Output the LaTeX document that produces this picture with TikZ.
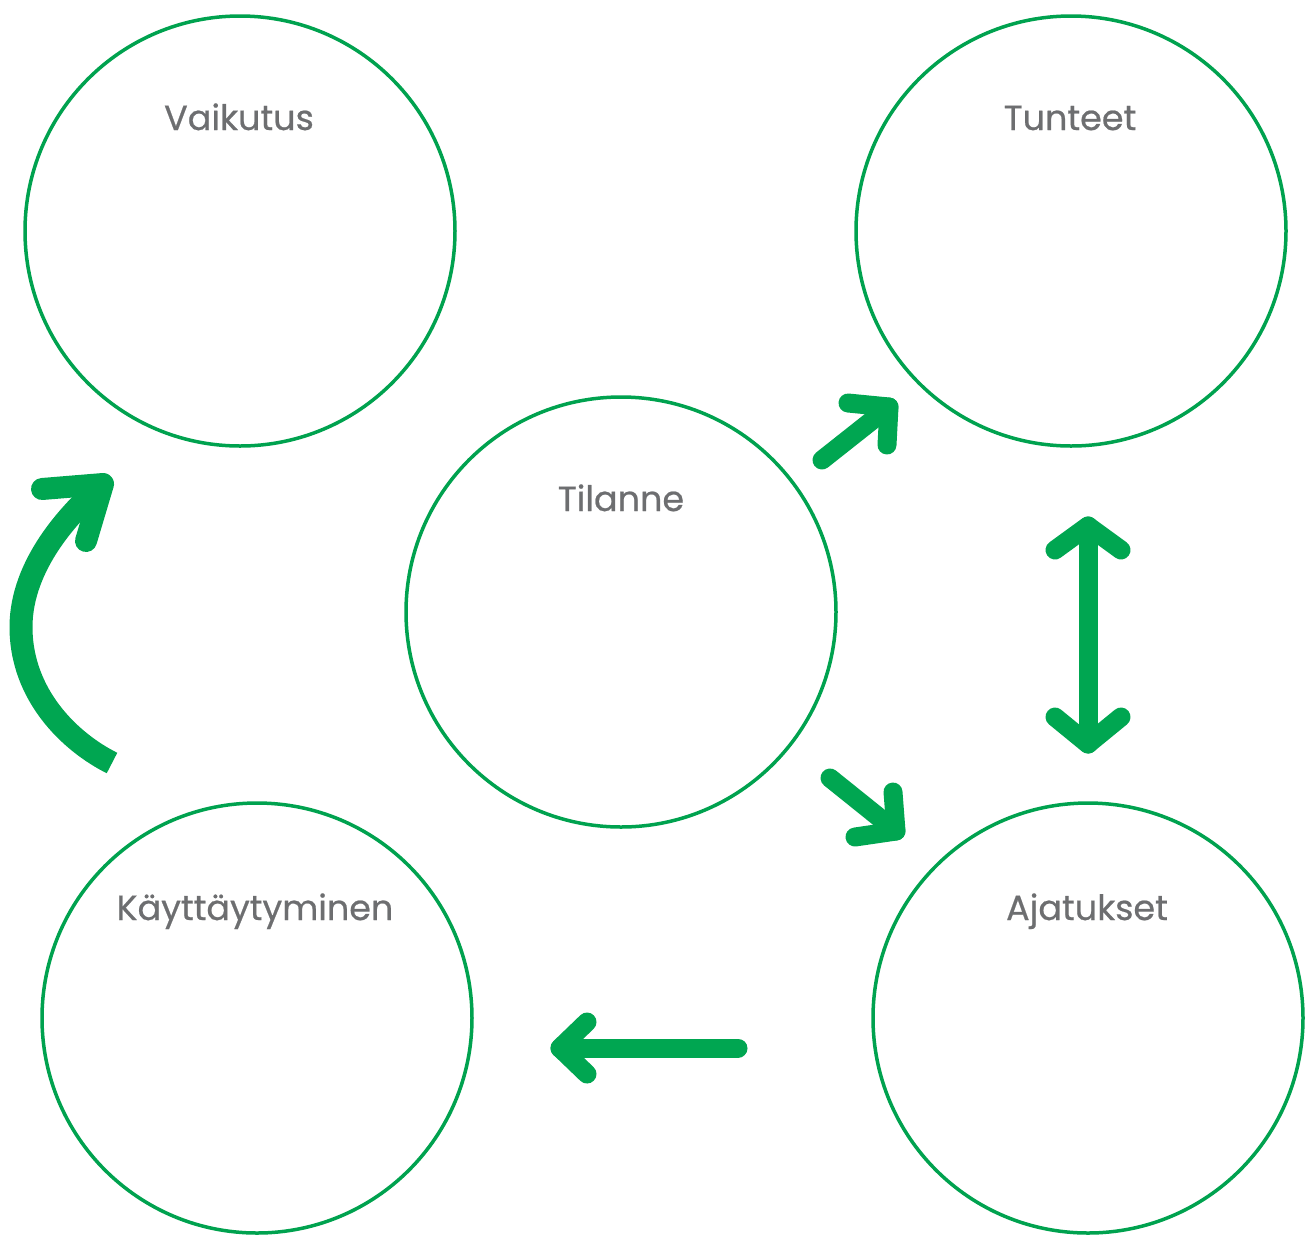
\documentclass[tikz,border=0pt]{standalone}
\usepackage{fontspec}
\setmainfont{Poppins}[BoldFont=Poppins, BoldFeatures={FakeBold=0.6}]
\definecolor{ringgreen}{HTML}{00A24F}
\definecolor{arrowgreen}{HTML}{00A651}
\definecolor{labelgray}{HTML}{6D6E70}
\begin{document}
\begin{tikzpicture}[x=1pt,y=-1pt,
  ring/.style={circle, draw=ringgreen, line width=3.5pt, minimum size=430pt, inner sep=0pt},
  lbl/.style={anchor=base, text=labelgray, font=\fontsize{35}{40}\selectfont\bfseries, inner sep=0pt},
  arr/.style={draw=arrowgreen, line width=19pt, line cap=round, line join=round},
  shaft/.style={arr, line cap=butt}]
\useasboundingbox (0,0) rectangle (1309,1235);
\fill[white] (0,0) rectangle (1309,1235);
% circles
\node[ring] (vaik) at (240,231) {};
\node[ring] (tunt) at (1071,231) {};
\node[ring] (tila) at (621,612) {};
\node[ring] (kayt) at (257,1018) {};
\node[ring] (ajat) at (1088,1018) {};
% labels
\node[lbl] (vaikl) at (239,130) {Vaikutus};
\node[lbl] (guntl) at (1070,130) {Tunteet};
\node[lbl] (tilal) at (621,511) {Tilanne};
\node[lbl] (kaytl) at (255,920) {Käyttäytyminen};
\node[lbl] (ajatl) at (1087,920) {Ajatukset};
% curved arrow Käyttäytyminen -> Vaikutus
\coordinate (aS) at (112,763);
\coordinate (aM) at (21,627);
\coordinate (aP) at (103,484);
\coordinate (aL) at (42,489);
\coordinate (aR) at (86,541);
\draw[shaft, line width=23pt] (aS) .. controls (70,742) and (21,695) .. (aM)
  .. controls (21,565) and (70,512) .. (aP);
\draw[arr, line width=22pt] (aL) -- (aP) -- (aR);
% Tilanne -> Tunteet
\coordinate (bS) at (822,460);
\coordinate (bP) at (889,407);
\coordinate (bL) at (848,403);
\coordinate (bR) at (887,445);
\draw[arr] (bS) -- (bP);
\draw[arr] (bL) -- (bP) -- (bR);
% Tilanne -> Ajatukset
\coordinate (cS) at (830,778);
\coordinate (cP) at (896,831);
\coordinate (cL) at (893,792);
\coordinate (cR) at (855,837);
\draw[arr] (cS) -- (cP);
\draw[arr] (cL) -- (cP) -- (cR);
% Tunteet <-> Ajatukset
\coordinate (dT) at (1088,526);
\coordinate (dB) at (1088,744);
\draw[arr] (dT) -- (dB);
\draw[arr] (1055,550) -- (dT) -- (1121,550);
\draw[arr] (1055,717) -- (dB) -- (1121,717);
% Ajatukset -> Käyttäytyminen
\coordinate (eS) at (738,1048);
\coordinate (eP) at (560,1048);
\draw[arr] (eS) -- (eP);
\draw[arr] (587,1022) -- (eP) -- (587,1074);
\end{tikzpicture}
\end{document}
